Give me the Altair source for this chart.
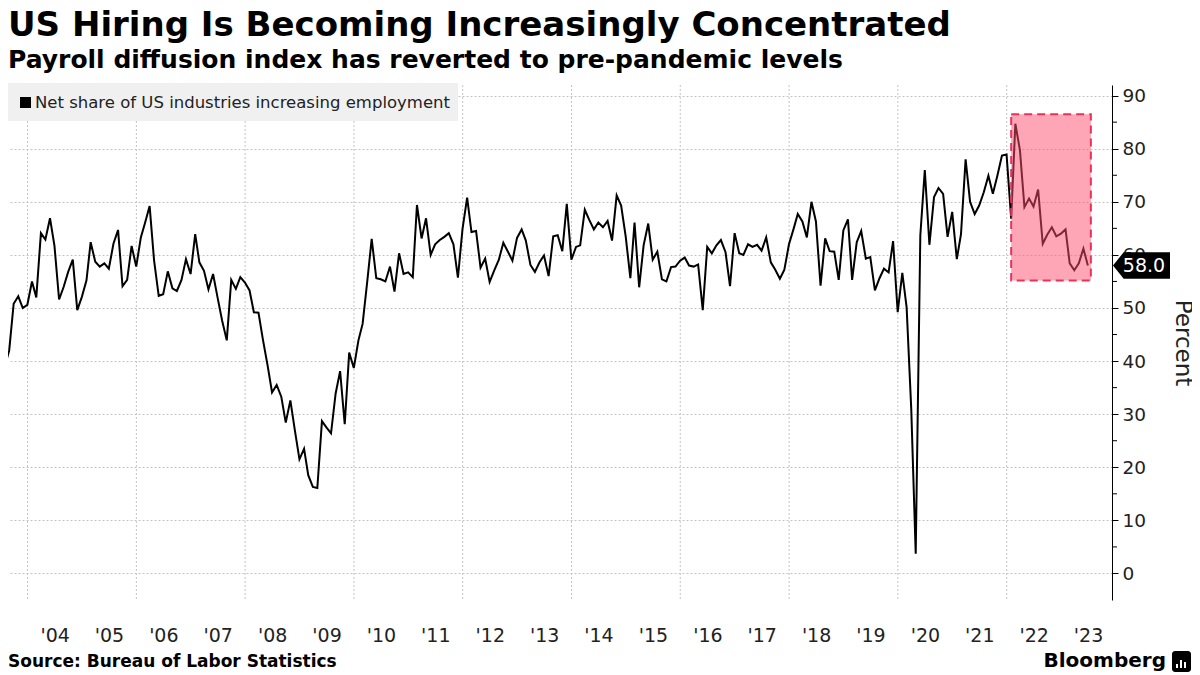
import altair as alt
import pandas as pd

TITLE = "US Hiring Is Becoming Increasingly Concentrated"
SUBTITLE = "Payroll diffusion index has reverted to pre-pandemic levels"
SERIES_NAME = "Net share of US industries increasing employment"
Y_TITLE = "Percent"
SOURCE = "Source: Bureau of Labor Statistics"
BRAND = "Bloomberg"

START_MONTH = "2003-06"
V2003 = [35.8, 38.9, 42.0, 50.8, 52.2, 50.0, 50.6]
V2004 = [55.0, 52.0, 64.1, 62.9, 66.9, 61.7, 51.6, 54.0, 56.8, 59.1, 49.6, 52.1]
V2005 = [55.2, 62.4, 58.7, 57.8, 58.4, 57.4, 62.1, 64.7, 54.1, 55.3, 61.7, 57.8]
V2006 = [63.3, 66.0, 69.2, 58.9, 52.3, 52.6, 56.9, 53.7, 53.2, 55.3, 59.2, 56.4]
V2007 = [63.9, 58.6, 57.0, 53.5, 56.4, 52.0, 47.6, 43.9, 55.3, 53.6, 55.8, 54.8]
V2008 = [53.3, 49.2, 49.1, 44.0, 39.2, 34.1, 35.5, 33.3, 28.4, 32.6, 27.0, 21.5]
V2009 = [23.5, 18.5, 16.3, 16.1, 28.7, 27.5, 26.4, 33.9, 38.1, 28.1, 41.6, 38.7]
V2010 = [43.9, 47.0, 54.9, 63.0, 55.6, 55.4, 55.0, 57.8, 53.1, 60.3, 56.4, 56.7]
V2011 = [55.8, 69.4, 63.1, 66.9, 60.0, 62.0, 62.8, 63.4, 64.1, 62.0, 55.7, 64.9]
V2012 = [70.8, 64.3, 64.5, 57.6, 59.3, 54.9, 57.1, 59.1, 62.3, 60.6, 58.9, 63.2]
V2013 = [64.8, 62.7, 58.1, 56.8, 58.6, 59.9, 56.0, 63.5, 63.7, 60.7, 69.6, 59.1]
V2014 = [61.5, 61.8, 68.5, 66.6, 64.8, 66.1, 65.2, 66.4, 62.7, 71.2, 69.3, 63.4]
V2015 = [55.6, 66.1, 53.9, 61.8, 65.9, 59.1, 60.6, 55.4, 55.0, 57.7, 57.8, 58.9]
V2016 = [59.5, 58.0, 57.8, 58.2, 49.6, 61.5, 60.3, 61.8, 62.8, 60.5, 54.1, 64.1]
V2017 = [60.3, 60.0, 62.0, 61.5, 61.9, 60.8, 63.3, 58.6, 57.2, 55.5, 57.2, 62.0]
V2018 = [64.9, 67.7, 66.3, 63.3, 70.0, 66.3, 54.2, 63.1, 60.7, 60.6, 55.3, 64.6]
V2019 = [66.7, 55.3, 62.4, 64.5, 59.3, 59.6, 53.3, 55.6, 57.4, 56.7, 62.6, 49.2]
V2020 = [56.6, 50.1, 31.0, 3.7, 63.7, 76.0, 61.9, 70.9, 72.6, 71.5, 63.4, 68.1]
V2021 = [59.2, 63.9, 78.0, 70.0, 67.7, 69.3, 71.8, 74.9, 71.5, 75.0, 78.7, 78.9]
V2022 = [66.8, 84.7, 79.7, 69.0, 70.6, 69.1, 72.3, 62.1, 63.8, 65.2, 63.5, 64.0]
V2023 = [64.8, 58.4, 57.1, 58.4, 61.2, 58.0]

Y_TICKS = [0, 10, 20, 30, 40, 50, 60, 70, 80, 90]
Y_MINOR = [5, 15, 25, 35, 45, 55, 65, 75, 85]
GRID_YEARS = [2004, 2006, 2008, 2010, 2012, 2014, 2016, 2018, 2020, 2022]
LABEL_YEARS = list(range(2004, 2024))
HIGHLIGHT_DATES = ["2022-01-31", "2023-07-20"]
HIGHLIGHT_RANGE = [55.2, 86.5]

FONT = "'DejaVu Sans', Verdana, sans-serif"
W, H = 1104, 515

values = (V2003 + V2004 + V2005 + V2006 + V2007 + V2008 + V2009 + V2010 + V2011
          + V2012 + V2013 + V2014 + V2015 + V2016 + V2017 + V2018 + V2019
          + V2020 + V2021 + V2022 + V2023)
periods = pd.period_range(START_MONTH, periods=len(values), freq="M")
dates = [p.end_time.strftime("%Y-%m-%d") for p in periods]
df = pd.DataFrame({"date": dates, "value": values})

xscale = alt.Scale(type="utc", domain=[alt.DateTime(year=2003, month=8, date=23, utc=True),
                                       alt.DateTime(year=2023, month=12, date=9, utc=True)])
yscale = alt.Scale(domain=[-5, 92], nice=False, zero=False)

xaxis = alt.Axis(values=[alt.DateTime(year=y, month=7, date=1, utc=True) for y in LABEL_YEARS],
                 labelExpr="\"'\" + utcFormat(datum.value, '%y')",
                 grid=False, ticks=False, tickSize=0,
                 domain=False, labelFontSize=19, labelPadding=26, labelColor="#222",
                 labelFont=FONT, labelFlush=False, labelOverlap=False, title=None)
yaxis = alt.Axis(orient="right", values=Y_TICKS, grid=True, gridDash=[2, 2],
                 gridColor="#c4c4c4", domainColor="black", tickColor="black", tickSize=6,
                 labelPadding=4, labelFontSize=18.5, labelColor="#222", labelFont=FONT,
                 title=Y_TITLE, titleFontSize=23, titleFontWeight="normal",
                 titleFont=FONT, titleColor="#222", titleAngle=90, titlePadding=25)

X = lambda f="date:T": alt.X(f, scale=xscale, axis=xaxis)
Y = lambda f="value:Q": alt.Y(f, scale=yscale, axis=yaxis)

vgrid = alt.Chart(pd.DataFrame({"date": [f"{y}-01-01" for y in GRID_YEARS]})).mark_rule(
    strokeDash=[2, 2], color="#c4c4c4", strokeWidth=1
).encode(x=X(), y=alt.value(0), y2=alt.value(H))

line = alt.Chart(df).mark_line(color="black", strokeWidth=2, clip=True).encode(x=X(), y=Y())

hl = alt.Chart(pd.DataFrame({"date": [HIGHLIGHT_DATES[0]], "date2": [HIGHLIGHT_DATES[1]],
                             "value": [HIGHLIGHT_RANGE[0]], "value2": [HIGHLIGHT_RANGE[1]]})).mark_rect(
    fill="#ff4d6d", fillOpacity=0.5, stroke="#e8325a", strokeDash=[8, 5], strokeWidth=2
).encode(x=X(), x2="date2:T", y=Y(), y2="value2:Q")

minor = alt.Chart(pd.DataFrame({"value": Y_MINOR})).mark_rule(color="black", strokeWidth=1).encode(
    y=Y(), x=alt.value(W), x2=alt.value(W + 5))

one = pd.DataFrame({"text": [SERIES_NAME]})
leg_box = alt.Chart(one).mark_rect(color="#f0f0f0").encode(
    x=alt.value(0), x2=alt.value(450), y=alt.value(-2), y2=alt.value(36))
leg_sym = alt.Chart(one).mark_rect(color="black").encode(
    x=alt.value(12), x2=alt.value(23), y=alt.value(12), y2=alt.value(23))
leg_txt = alt.Chart(one).mark_text(align="left", baseline="middle", fontSize=16.5, font=FONT,
                                   color="#222").encode(
    x=alt.value(27), y=alt.value(18), text="text:N")

last = pd.DataFrame({"value": [values[-1]], "label": [f"{values[-1]:.1f}"]})
TAG = "M-1,0L-0.625,-0.467L1,-0.467L1,0.467L-0.625,0.467Z"
tag = alt.Chart(last).mark_point(shape=TAG, filled=True, color="black", opacity=1, size=3249).encode(
    x=alt.value(W + 29.5), y=Y())
tag_txt = alt.Chart(last).mark_text(color="white", fontSize=19, font=FONT, align="center",
                                    baseline="middle").encode(
    x=alt.value(W + 32), y=Y(), text="label:N")

title = alt.Chart(pd.DataFrame({"text": [TITLE]})).mark_text(
    align="left", baseline="top", fontSize=34, fontWeight="bold", font=FONT, color="black"
).encode(x=alt.value(0), y=alt.value(-76), text="text:N")
subtitle = alt.Chart(pd.DataFrame({"text": [SUBTITLE]})).mark_text(
    align="left", baseline="top", fontSize=25, fontWeight="bold", font=FONT, color="black"
).encode(x=alt.value(0), y=alt.value(-37), text="text:N")
source = alt.Chart(pd.DataFrame({"text": [SOURCE]})).mark_text(
    align="left", baseline="middle", fontSize=17, fontWeight="bold", font=FONT, color="black"
).encode(x=alt.value(0), y=alt.value(577), text="text:N")
brand = alt.Chart(pd.DataFrame({"text": [BRAND]})).mark_text(
    align="right", baseline="middle", fontSize=20, fontWeight="bold", font=FONT, color="black"
).encode(x=alt.value(1158), y=alt.value(576), text="text:N")
logo = alt.Chart(pd.DataFrame({"text": [BRAND]})).mark_rect(color="black", cornerRadius=3).encode(
    x=alt.value(1164), x2=alt.value(1183), y=alt.value(566), y2=alt.value(587))
LOGO_BARS = [(1168, 1170, 579), (1172, 1174, 575), (1176, 1178, 577)]
logo_bars = alt.Chart(pd.DataFrame({"x": [b[0] for b in LOGO_BARS], "x2": [b[1] for b in LOGO_BARS],
                                    "y": [b[2] for b in LOGO_BARS]})).mark_rect(color="white").encode(
    x=alt.X("x:Q", scale=None), x2="x2:Q", y=alt.Y("y:Q", scale=None), y2=alt.value(583))

chart = alt.layer(
    vgrid, line, hl, minor, leg_box, leg_sym, leg_txt, tag, tag_txt,
    title, subtitle, source, brand, logo, logo_bars
).properties(
    width=W, height=H,
    autosize=alt.AutoSizeParams(type="none"),
    padding={"left": 0, "top": 77, "right": 80, "bottom": 75},
    background="white",
).configure_view(stroke=None)

chart.save("out.html", embed_options={"renderer": "svg", "actions": False})
